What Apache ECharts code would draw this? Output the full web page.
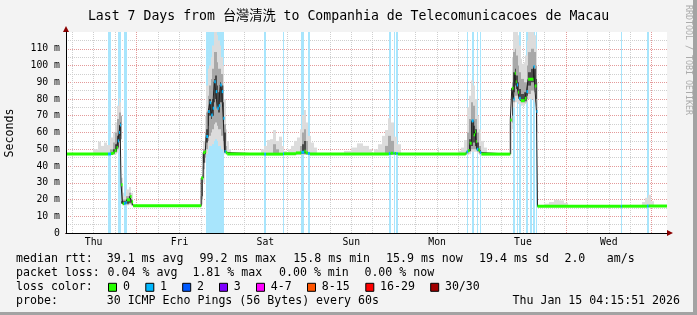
<!DOCTYPE html>
<html><head><meta charset="utf-8">
<script src="https://cdn.jsdelivr.net/npm/echarts@6/dist/echarts.min.js"></script>
<style>html,body{margin:0;padding:0;background:#f3f3f3}#c{width:697px;height:315px}</style>
</head><body><div id="c"></div>
<script>
// ---------- data ----------
const titleText = 'Last 7 Days from 台灣清洗 to Companhia de Telecomunicacoes de Macau';
const rangeStart = 4.264;   // hours since Thu 00:00 (Thu Jan 8 04:15:51)
const rangeEnd = 172.264;   // Thu Jan 15 04:15:51
const dayLabels = ['Thu','Fri','Sat','Sun','Mon','Tue','Wed'];
const dayLabelHours = [12,36,60,84,108,132,156];
const gridHours = [6,12,18,30,36,42,54,60,66,78,84,90,102,108,114,126,132,138,150,156,162];
const midnightHours = [24,48,72,96,120,144,168];
const yMin = 0, yMax = 120, yStep = 10;

const medianT = [4.26,16.02,16.86,17.42,17.84,18.40,18.74,19.10,19.38,19.66,20.08,20.50,20.92,21.26,22.18,22.60,23.02,
 42.06,42.62,43.18,43.46,44.02,44.44,44.86,45.28,45.70,46.12,46.54,46.96,47.38,47.80,48.22,48.58,48.92,49.34,
 59.70,60.18,64.94,65.22,68.53,70.06,70.90,71.30,71.88,72.44,
 94.51,94.98,95.82,96.10,96.58,97.00,
 116.00,116.26,116.63,117.10,117.66,118.22,118.60,118.85,119.06,119.54,119.99,120.38,
 128.46,128.88,129.34,129.70,130.00,130.26,130.63,130.91,131.38,132.50,132.98,133.42,134.94,135.30,135.78,136.06,
 159.38,159.66,166.66,167.14,172.26];
const medianV = [47.2,47.2,47.5,47.8,49.2,51.0,55.0,60.0,64.5,28.8,17.5,17.6,18.2,19.8,21.8,18.6,16.3,
 32.8,48.0,48.6,57.6,72.5,77.8,70.5,74.5,90.3,84.4,74.5,76.0,88.4,84.4,68.5,48.6,48.0,47.1,
 47.1,47.1,47.3,47.3,47.8,48.2,48.8,47.8,47.5,47.1,
 47.5,47.6,47.6,47.5,47.4,47.1,
 47.6,48.5,49.2,53.6,67.0,58.6,60.5,54.6,50.0,49.6,48.0,47.1,
 67.5,86.4,80.0,95.4,90.3,88.4,84.0,80.4,79.0,80.4,84.4,91.8,99.3,87.8,72.5,15.9,
 16.0,16.0,16.1,16.1,16.1];
const medianLoss = [0,1,0,0,0,0,1,1,1,0,0,1,1,0,0,0,0,
 0,0,0,1,1,1,1,1,1,1,1,1,1,1,1,1,0,0,
 1,0,1,0,0,1,0,0,1,0,
 1,0,1,0,1,0,
 0,1,0,0,1,0,0,0,1,0,1,0,
 0,0,1,0,0,1,0,1,0,0,1,0,1,0,1,0,
 1,0,1,0,0];

const lossBarStart = [16.02,18.74,20.50,43.46,59.70,64.94,70.06,71.88,94.51,95.82,96.58,116.26,117.66,119.06,119.99,129.34,130.26,130.91,132.98,133.98,134.94,135.78,159.38,166.66];
const lossBarEnd   = [16.86,19.66,21.26,48.30,60.18,65.22,70.90,72.44,94.98,96.10,97.00,116.63,118.22,119.54,120.38,129.70,130.63,131.38,133.42,134.46,135.30,136.06,159.66,167.14];
const lossBarCount = [1,1,1,1,1,1,1,1,1,1,1,1,1,1,1,1,1,1,1,1,1,1,1,1];

// smoke bands: [hour, low, high]; each row holds until the next row
const smokeOuter = [
 [11.82,46.5,50.0],[13.22,46.5,54.5],[14.06,46.5,52.0],[14.90,46.5,54.0],[15.74,46.5,52.5],[16.58,46.5,57.0],[17.42,46.8,60.0],
 [17.98,47.0,66.0],[18.54,48.0,76.0],[18.96,50.0,80.5],[19.38,52.0,78.0],[19.66,18.0,33.0],[20.08,16.5,24.0],[20.50,16.5,22.0],
 [21.06,16.5,26.0],[21.76,16.8,27.5],[22.46,16.5,24.0],[23.02,16.0,17.0],[23.58,16.3,16.3],
 [41.78,16.0,22.0],[42.20,17.0,40.0],[42.62,30.0,55.0],[43.04,42.0,70.0],[43.46,47.0,88.0],[43.88,50.0,98.0],[44.30,52.0,100.0],
 [44.72,52.0,105.0],[45.14,53.0,112.0],[45.56,55.0,120.0],[45.98,56.0,120.0],[46.40,55.0,118.0],[46.82,52.0,115.0],[47.24,52.0,112.0],
 [47.66,50.0,105.0],[48.08,48.0,100.0],[48.50,47.0,80.0],[48.92,46.5,62.0],[49.34,46.5,55.0],[49.90,46.5,50.0],[50.46,47.1,47.1],
 [58.87,46.5,50.0],[59.71,46.5,52.0],[60.55,46.5,55.5],[61.39,46.5,56.0],[62.23,46.5,61.5],[63.07,46.5,55.0],[63.91,46.5,57.5],
 [64.75,46.5,52.0],[65.31,46.5,49.0],[66.15,47.1,47.1],
 [66.43,46.5,50.0],[67.27,46.5,52.0],[68.11,46.5,55.0],[68.95,46.5,57.0],[69.79,46.5,62.0],[70.35,46.5,70.5],[70.91,46.5,73.5],
 [71.47,46.5,66.0],[72.03,46.5,58.0],[72.87,46.5,54.0],[73.71,46.5,51.0],[74.55,47.1,47.1],
 [81.84,46.5,49.0],[83.80,46.5,51.0],[85.48,46.5,53.5],[87.16,46.5,52.0],[88.84,46.5,50.0],[89.68,47.1,47.1],
 [90.24,46.5,50.0],[91.36,46.5,53.0],[92.48,46.5,58.0],[93.32,46.5,61.5],[94.16,46.5,68.5],[95.00,46.5,66.0],[95.84,46.5,57.5],
 [96.68,46.5,53.0],[97.80,47.1,47.1],
 [108.30,46.5,51.0],[108.60,47.1,47.1],
 [113.76,46.5,49.0],[114.60,46.5,51.0],[115.44,46.5,55.5],[116.28,46.5,75.0],[116.84,47.0,82.0],[117.40,48.5,91.0],[117.96,48.5,88.0],
 [118.52,48.5,80.0],[119.08,47.5,70.0],[119.64,46.5,62.0],[120.20,46.5,55.0],[121.04,46.5,51.0],[121.88,47.1,47.1],
 [128.46,47.0,70.0],[128.88,62.0,105.0],[129.30,75.0,120.0],[129.72,78.0,120.0],[130.14,78.0,120.0],[130.56,77.0,118.0],
 [130.98,77.0,112.0],[131.40,76.0,104.0],[131.82,76.0,101.0],[132.24,76.0,102.0],[132.66,77.0,106.0],[133.08,78.0,115.0],
 [133.50,80.0,120.0],[133.92,80.0,120.0],[134.34,80.0,120.0],[134.76,80.0,120.0],[135.18,78.0,118.0],[135.60,72.0,110.0],
 [136.02,60.0,90.0],[136.16,16.0,16.0],
 [137.84,15.5,17.5],[139.24,15.5,18.5],[140.64,15.5,19.8],[142.04,15.5,19.5],[143.44,15.5,18.0],[144.56,16.0,16.0],
 [165.30,15.5,18.5],[166.14,15.5,21.0],[166.98,15.5,22.8],[167.82,15.5,19.0],[168.66,16.0,16.0]
];
const smokeMid = [
 [16.58,47.0,50.0],[17.42,47.5,54.0],[17.98,48.0,60.0],[18.54,50.0,68.0],[19.10,54.0,72.0],[19.52,56.0,70.0],[19.66,18.0,28.0],
 [20.08,17.0,20.0],[21.06,17.0,22.0],[21.76,17.5,24.0],[22.46,16.5,20.0],[23.02,16.3,16.3],
 [42.20,20.0,35.0],[42.62,38.0,50.0],[43.04,45.0,60.0],[43.46,50.0,72.0],[43.88,55.0,82.0],[44.30,58.0,88.0],[44.72,60.0,92.0],
 [45.14,62.0,98.0],[45.56,65.0,108.0],[45.98,66.0,108.0],[46.40,64.0,102.0],[46.82,62.0,98.0],[47.24,62.0,98.0],[47.66,58.0,95.0],
 [48.08,55.0,88.0],[48.50,48.0,65.0],[48.92,47.0,52.0],[49.34,47.1,47.1],
 [62.23,47.0,53.0],[63.07,47.0,50.0],[63.91,47.1,47.1],
 [69.79,47.0,52.0],[70.35,47.0,60.0],[70.91,47.0,62.0],[71.47,47.0,55.0],[72.03,47.1,47.1],
 [93.32,47.0,52.0],[94.16,47.0,58.0],[95.00,47.0,55.0],[95.84,47.1,47.1],
 [116.28,47.5,60.0],[116.84,48.5,68.0],[117.40,50.0,78.0],[117.96,50.0,76.0],[118.52,50.0,68.0],[119.08,48.5,60.0],[119.64,47.5,52.0],[120.20,47.1,47.1],
 [128.88,66.0,90.0],[129.30,78.0,108.0],[129.72,82.0,110.0],[130.14,82.0,106.0],[130.56,80.0,100.0],[130.98,79.0,96.0],[131.40,78.0,92.0],
 [132.24,78.0,90.0],[133.08,80.0,100.0],[133.50,83.0,108.0],[134.34,85.0,110.0],[135.18,84.0,108.0],[135.60,76.0,100.0],[136.02,16.0,16.0]
];
const smokeInner = [
 [17.42,47.5,50.0],[17.98,48.5,53.0],[18.54,51.0,58.0],[18.96,55.0,64.0],[19.38,58.0,66.0],[19.66,17.5,19.0],[21.06,17.5,20.0],[21.76,18.0,22.0],[22.46,16.3,16.3],
 [42.20,22.0,33.0],[42.62,42.0,48.0],[43.04,47.0,52.0],[43.46,54.0,62.0],[43.88,64.0,74.0],[44.30,70.0,80.0],[44.72,68.0,78.0],[45.14,70.0,80.0],
 [45.56,78.0,92.0],[45.98,80.0,94.0],[46.40,76.0,88.0],[46.82,72.0,84.0],[47.24,78.0,90.0],[47.66,78.0,88.0],[48.08,66.0,78.0],[48.50,48.0,60.0],[48.92,47.1,47.1],
 [70.35,47.5,53.0],[70.91,47.5,55.0],[71.47,47.1,47.1],
 [116.84,49.0,56.0],[117.40,52.0,66.0],[117.96,54.0,64.0],[118.52,52.0,62.0],[119.08,49.0,54.0],[119.64,47.1,47.1],
 [128.88,70.0,84.0],[129.30,84.0,96.0],[129.72,88.0,98.0],[130.14,86.0,94.0],[130.56,83.0,90.0],[130.98,80.0,86.0],[131.40,79.0,83.0],
 [132.24,79.0,84.0],[133.08,82.0,90.0],[133.50,88.0,96.0],[134.34,90.0,98.0],[135.18,88.0,98.0],[135.60,80.0,92.0],[136.02,16.0,16.0]
];

const rttLegend = ['median rtt:', '39.1 ms avg', '99.2 ms max', '15.8 ms min', '15.9 ms now', '19.4 ms sd', '2.0', 'am/s'];
const lossLegend = ['packet loss:', '0.04 % avg', '1.81 % max', '0.00 % min', '0.00 % now'];
const lossColorLabels = ['0','1','2','3','4-7','8-15','16-29','30/30'];
const probeLegend = ['probe:', '30 ICMP Echo Pings (56 Bytes) every 60s'];
const stampText = 'Thu Jan 15 04:15:51 2026';
const sideText = 'RRDTOOL / TOBI OETIKER';
const yAxisName = 'Seconds';

// ---------- styles / layout ----------
const lossColors = ['#26ff00','#00b8ff','#0059ff','#7e00ff','#ff00ff','#ff5500','#ff0000','#a10000'];
const lossBgColors = ['#ffffff','#a8e5fc','#9fc0ff','#c2a0ff','#ffa0ff','#ffc0a0','#ffa0a0','#e0a0a0'];
const smokeColors = ['#dcdcdc','#a8a8a8','#4a4a4a'];
const MONO = '"DejaVu Sans Mono", "Noto Sans CJK TC", monospace';
const rttX = [16,106.7,199.5,293.3,386.0,479.1,564.4,606.7];
const lossX = [16,107.6,192.4,279,364.4];
const boxX = [108,145.3,182.2,219,256,307,365.3,430.2];
const boxLabelX = [123,160,196.9,233.8,270.7,321.8,380,444.9];
const rowY = [259.3,273.3,287.3,301];
const legendFont = '11.6px ' + MONO;

// ---------- build ----------
function bandData(rows){
  const out = [];
  for (let i = 0; i < rows.length - 1; i++) {
    const r = rows[i];
    if (r[2] > r[1]) out.push([r[0], rows[i+1][0], r[1], r[2]]);
  }
  return out;
}
function rectSeries(rows, color, z){
  return {
    type:'custom', z:z, silent:true, clip:true,
    encode:{x:[0,1], y:[2,3]},
    renderItem(params, api){
      const a = api.coord([api.value(0), api.value(3)]);
      const b = api.coord([api.value(1), api.value(2)]);
      let x0 = Math.round(a[0]), x1 = Math.round(b[0]);
      if (x1 <= x0) x1 = x0 + 1;
      return {type:'rect', shape:{x:x0, y:a[1], width:x1-x0, height:b[1]-a[1]}, style:{fill:color}};
    },
    data: bandData(rows)
  };
}
const lossBarData = lossBarStart.map((s,i) => [s, lossBarEnd[i], yMin, yMax, lossBarCount[i]]);
const medianSegs = [];
for (let i = 0; i < medianT.length - 1; i++) {
  medianSegs.push([medianT[i], medianT[i+1], medianV[i], medianV[i], medianLoss[i]]);
}

const graphics = [];
rttLegend.forEach((t,i) => graphics.push({type:'text', x:rttX[i], y:rowY[0], z:100, style:{text:t, font:legendFont, fill:'#000', verticalAlign:'middle'}}));
lossLegend.forEach((t,i) => graphics.push({type:'text', x:lossX[i], y:rowY[1], z:100, style:{text:t, font:legendFont, fill:'#000', verticalAlign:'middle'}}));
graphics.push({type:'text', x:16, y:rowY[2], z:100, style:{text:'loss color:', font:legendFont, fill:'#000', verticalAlign:'middle'}});
lossColorLabels.forEach((t,i) => {
  graphics.push({type:'rect', x:boxX[i], y:rowY[2]-4.5, z:100, shape:{x:0.5, y:0.5, width:8, height:8}, style:{fill:lossColors[i], stroke:'#000', lineWidth:1}});
  graphics.push({type:'text', x:boxLabelX[i], y:rowY[2], z:100, style:{text:t, font:legendFont, fill:'#000', verticalAlign:'middle'}});
});
graphics.push({type:'text', x:16, y:rowY[3], z:100, style:{text:probeLegend[0], font:legendFont, fill:'#000', verticalAlign:'middle'}});
graphics.push({type:'text', x:106.7, y:rowY[3], z:100, style:{text:probeLegend[1], font:legendFont, fill:'#000', verticalAlign:'middle'}});
graphics.push({type:'text', x:680, y:rowY[3], z:100, style:{text:stampText, font:legendFont, fill:'#000', align:'right', verticalAlign:'middle'}});
graphics.push({type:'text', x:10, y:133, rotation:Math.PI/2, z:100, style:{text:yAxisName, font:legendFont, fill:'#000', align:'center', verticalAlign:'middle'}});
graphics.push({type:'text', x:688, y:60, rotation:-Math.PI/2, z:100, style:{text:sideText, font:'8.3px ' + MONO, fill:'#ababab', align:'center', verticalAlign:'middle'}});
graphics.push({type:'rect', right:0, top:0, z:90, shape:{width:4, height:315}, style:{fill:'#a3a3a3'}});
graphics.push({type:'rect', left:0, bottom:0, z:90, shape:{width:697, height:3}, style:{fill:'#a3a3a3'}});

const grid = {left:66, right:30, top:32, bottom:82, show:true, backgroundColor:'#ffffff', borderWidth:0};
const gridDash = [1,1];
const plainAxis = {min:rangeStart, max:rangeEnd, type:'value', axisTick:{show:false}, axisLabel:{show:false}, splitLine:{show:false}};

const option = {
  animation:false,
  backgroundColor:'#f3f3f3',
  title:{text:titleText, left:'center', top:5, textStyle:{fontFamily:MONO, fontSize:13.2, fontWeight:'normal', color:'#000'}},
  grid:grid,
  xAxis:[
    {type:'value', min:rangeStart, max:rangeEnd, position:'bottom', z:0,
     axisLine:{show:false},
     axisTick:{show:false, customValues:gridHours},
     axisLabel:{customValues:dayLabelHours, formatter:(v) => dayLabels[dayLabelHours.indexOf(v)], fontFamily:MONO, fontSize:9.8, color:'#000', margin:5},
     splitLine:{show:true, lineStyle:{color:'#cfcfcf', type:gridDash, width:1}}},
    Object.assign({}, plainAxis, {position:'bottom', z:9, axisLine:{show:true, lineStyle:{color:'#8b0000', width:1}, symbol:['none','triangle'], symbolSize:[6,6], symbolOffset:[0,3]}}),
    Object.assign({}, plainAxis, {position:'bottom', z:10, axisLine:{show:true, lineStyle:{color:'#000', width:1}}}),
    {type:'value', min:rangeStart, max:rangeEnd, position:'bottom', z:1,
     axisLine:{show:false}, axisLabel:{show:false},
     axisTick:{show:false, customValues:midnightHours},
     splitLine:{show:true, lineStyle:{color:'#e49a9a', type:gridDash, width:1}}}
  ],
  yAxis:[
    {type:'value', min:yMin, max:yMax, interval:yStep, position:'left', z:0,
     axisLine:{show:false}, axisTick:{show:false},
     axisLabel:{formatter:(v) => v === 0 ? '0' : v + ' m', fontFamily:MONO, fontSize:9.8, color:'#000', margin:6, showMaxLabel:false},
     minorTick:{show:false, splitNumber:2},
     splitLine:{show:true, showMaxLine:false, lineStyle:{color:'#e49a9a', type:gridDash, width:1}},
     minorSplitLine:{show:true, lineStyle:{color:'#cfcfcf', type:gridDash, width:1}}},
    {type:'value', min:yMin, max:yMax, position:'left', z:9, axisTick:{show:false}, axisLabel:{show:false}, splitLine:{show:false},
     axisLine:{show:true, lineStyle:{color:'#8b0000', width:1}, symbol:['none','triangle'], symbolSize:[6,6], symbolOffset:[0,3]}},
    {type:'value', min:yMin, max:yMax, position:'left', z:10, axisTick:{show:false}, axisLabel:{show:false}, splitLine:{show:false},
     axisLine:{show:true, lineStyle:{color:'#000', width:1}}}
  ],
  graphic:{elements:graphics},
  series:[
    {
      type:'custom', z:2, silent:true, clip:true, encode:{x:[0,1], y:[2,3]},
      renderItem(params, api){
        const a = api.coord([api.value(0), api.value(3)]);
        const b = api.coord([api.value(1), api.value(2)]);
        let x0 = Math.round(a[0]), x1 = Math.round(b[0]);
        if (x1 <= x0) x1 = x0 + 1;
        return {type:'rect', shape:{x:x0, y:a[1], width:x1-x0, height:b[1]-a[1]}, style:{fill:lossBgColors[api.value(4)]}};
      },
      data:lossBarData
    },
    rectSeries(smokeOuter, smokeColors[0], 3),
    rectSeries(smokeMid, smokeColors[1], 4),
    rectSeries(smokeInner, smokeColors[2], 5),
    {type:'line', z:6, step:'end', symbol:'none', silent:true, lineStyle:{color:'#202020', width:1},
     data:medianT.map((t,i) => [t, medianV[i]])},
    {
      type:'custom', z:7, silent:true, clip:true, encode:{x:[0,1], y:[2,3]},
      renderItem(params, api){
        const p0 = api.coord([api.value(0), api.value(2)]);
        const p1 = api.coord([api.value(1), api.value(2)]);
        return {type:'line', shape:{x1:p0[0], y1:p0[1], x2:p1[0], y2:p1[1]}, style:{stroke:lossColors[api.value(4)], lineWidth:3, lineCap:'butt'}};
      },
      data:medianSegs
    }
  ]
};
const chart = echarts.init(document.getElementById('c'), null, {renderer:'canvas'});
chart.setOption(option);
</script></body></html>
